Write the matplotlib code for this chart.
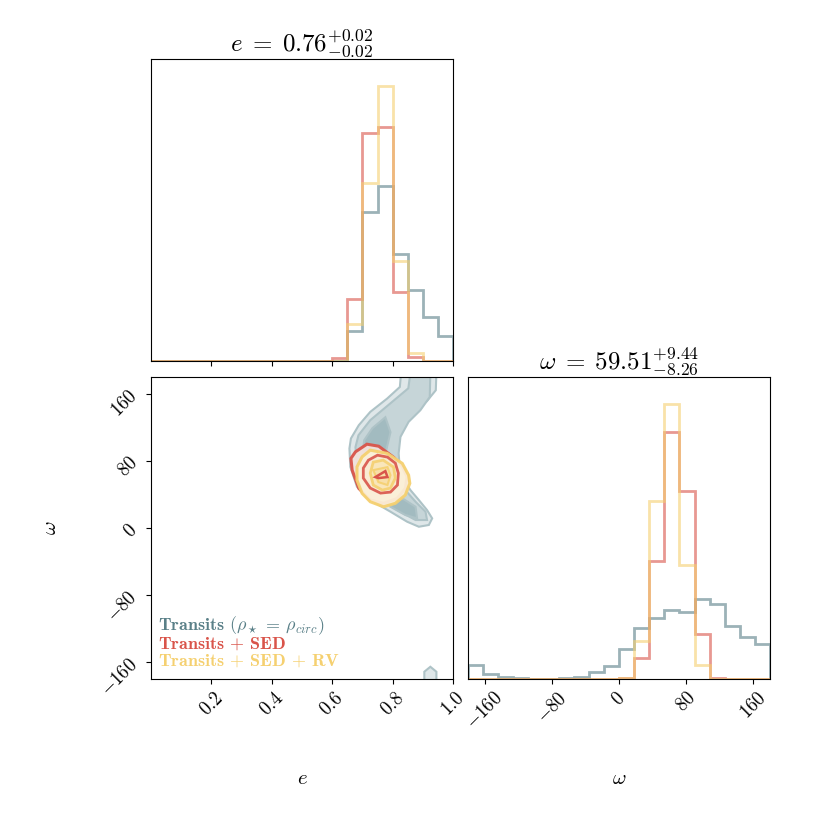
import numpy as np
import matplotlib
matplotlib.use('Agg')
import matplotlib.pyplot as plt

plt.rcParams['font.family'] = 'serif'
plt.rcParams['font.serif'] = ['cmr10']
plt.rcParams['mathtext.fontset'] = 'cm'
plt.rcParams['axes.formatter.use_mathtext'] = True

#
# Colours for the three fits
#
c_tr = '#5a8088'
c_sed = '#d9544a'
c_rv = '#f5d070'

#
# 1D posteriors: histogram counts (20 bins each)
#
e_edges = np.linspace(0.0, 1.0, 21)
e_tr = [0, 0, 0, 0, 0, 0, 0, 0, 0, 0, 0, 0, 0, 88, 446, 523, 318, 213, 130, 75]
e_sed = [0, 0, 0, 0, 0, 0, 0, 0, 0, 0, 0, 0, 8, 186, 681, 700, 205, 13, 0, 0]
e_rv = [0, 0, 0, 0, 0, 0, 0, 0, 0, 0, 0, 0, 0, 110, 531, 820, 300, 25, 0, 0]

w_edges = np.linspace(-180.0, 180.0, 21)
w_tr = [42, 14, 6, 2, 0, 0, 2, 7, 20, 40, 90, 152, 182, 207, 200, 239, 224, 159, 125, 104]
w_sed = [0, 0, 0, 0, 0, 0, 0, 0, 0, 0, 2, 62, 352, 737, 562, 135, 4, 0, 0, 0]
w_rv = [0, 0, 0, 0, 0, 0, 0, 0, 0, 0, 2, 114, 532, 820, 342, 42, 0, 0, 0, 0]

#
# 2D posterior: contour outlines (e, omega) for each level
#
tr_outer_e = [0.828, 0.824, 0.782, 0.726, 0.688, 0.662, 0.657, 0.660, 0.682, 0.736, 0.793, 0.848,
              0.887, 0.920, 0.931, 0.914, 0.887, 0.859, 0.842, 0.815, 0.809, 0.815, 0.832, 0.870,
              0.914, 0.943, 0.945]
tr_outer_w = [185, 168.1, 154.3, 138.4, 122.5, 106.7, 94.8, 72.9, 49.1, 31.3, 19.4, 7.5,
              1.5, 3.6, 11.5, 21.4, 33.3, 45.2, 55.1, 69.0, 86.8, 108.6, 122.5, 138.4,
              151.4, 164.2, 185]
tr_mid_e = [0.859, 0.852, 0.793, 0.726, 0.687, 0.677, 0.683, 0.700, 0.749, 0.815, 0.876, 0.914,
            0.909, 0.876, 0.842, 0.826, 0.820, 0.826, 0.853, 0.892, 0.923, 0.925]
tr_mid_w = [185, 166.5, 148.7, 128.5, 110.6, 96.4, 74.9, 51.2, 37.2, 21.4, 9.5, 9.5,
            19.4, 31.3, 45.2, 61.0, 88.9, 108.6, 126.5, 140.4, 156.2, 185]
tr_in1_e = [0.776, 0.793, 0.779, 0.733, 0.700, 0.706, 0.733]
tr_in1_w = [132.0, 114.2, 92.8, 78.5, 86.8, 104.7, 119.0]
tr_in2_e = [0.815, 0.876, 0.881, 0.842, 0.793]
tr_in2_w = [39.3, 25.3, 11.5, 15.5, 25.3]
tr_blob_e = [0.925, 0.905, 0.905, 0.945, 0.945]
tr_blob_w = [-165.4, -171.3, -183, -183, -171.3]

sed_outer_e = [0.677, 0.715, 0.754, 0.804, 0.832, 0.848, 0.842, 0.815, 0.770, 0.726, 0.688, 0.666, 0.662]
sed_outer_w = [90.8, 99.9, 97.5, 84.1, 72.9, 61.0, 47.2, 35.3, 29.4, 33.3, 47.2, 69.0, 82.9]
sed_mid_e = [0.720, 0.750, 0.783, 0.809, 0.819, 0.816, 0.793, 0.760, 0.726, 0.703, 0.703]
sed_mid_w = [80.9, 86.8, 84.5, 77.3, 65.4, 51.2, 42.8, 41.6, 47.6, 59.5, 71.4]
sed_in_e = [0.743, 0.776, 0.783, 0.753]
sed_in_w = [60.7, 67.8, 60.7, 59.5]

rv_outer_e = [0.726, 0.782, 0.832, 0.853, 0.857, 0.842, 0.809, 0.770, 0.726, 0.699, 0.682, 0.682, 0.699]
rv_outer_w = [92.8, 88.9, 77.0, 63.0, 53.2, 39.3, 29.4, 25.3, 31.3, 41.3, 57.1, 72.9, 84.8]
rv_mid_e = [0.736, 0.769, 0.803, 0.809, 0.793, 0.766, 0.736, 0.726]
rv_mid_w = [78.5, 80.9, 72.6, 59.5, 47.6, 45.2, 51.2, 65.4]
rv_in_e = [0.736, 0.783, 0.793, 0.783, 0.753]
rv_in_w = [69.0, 72.6, 63.0, 51.2, 54.7]

e_title = r'$e\;=\;0.76^{+0.02}_{-0.02}$'
w_title = r'$\omega\;=\;59.51^{+9.44}_{-8.26}$'

fig = plt.figure(figsize=(8.3, 8.3), dpi=100)
ax_e = fig.add_axes([0.1819, 0.5651, 0.3639, 0.3639])
ax_2d = fig.add_axes([0.1819, 0.1819, 0.3639, 0.3639])
ax_w = fig.add_axes([0.5639, 0.1819, 0.3639, 0.3639])

#
# Histogram of e
#
for vals, col in [(e_tr, c_tr), (e_sed, c_sed), (e_rv, c_rv)]:
    ax_e.stairs(vals, e_edges, color=col, alpha=0.6, lw=2)
ax_e.set_xlim(0, 1)
ax_e.set_ylim(0, 1.1 * max(e_rv))
ax_e.set_yticks([])
ax_e.set_xticks([0.2, 0.4, 0.6, 0.8, 1.0])
ax_e.set_xticklabels([])
ax_e.set_title(e_title, fontsize=18)

#
# Histogram of omega
#
for vals, col in [(w_tr, c_tr), (w_sed, c_sed), (w_rv, c_rv)]:
    ax_w.stairs(vals, w_edges, color=col, alpha=0.6, lw=2)
ax_w.set_xlim(-180, 180)
ax_w.set_ylim(0, 1.1 * max(w_rv))
ax_w.set_yticks([])
ax_w.set_xticks([-160, -80, 0, 80, 160])
ax_w.set_title(w_title, fontsize=18)
ax_w.set_xlabel(r'$\omega$', fontsize=15)
ax_w.xaxis.set_label_coords(0.5, -0.3)

#
# 2D contours
#
edge_tr = '#aec3c7'
ax_2d.fill(tr_outer_e, tr_outer_w, fc='#dfe7e9', ec=edge_tr, lw=1.5)
ax_2d.fill(tr_mid_e, tr_mid_w, fc='#c6d5d8', ec=edge_tr, lw=1.5)
ax_2d.fill(tr_in1_e, tr_in1_w, fc='#a2bbc0', ec=edge_tr, lw=1.5)
ax_2d.fill(tr_in2_e, tr_in2_w, fc='#a2bbc0', ec=edge_tr, lw=1.5)
ax_2d.fill(tr_blob_e, tr_blob_w, fc='#dfe7e9', ec=edge_tr, lw=1.5)

ax_2d.fill(sed_outer_e, sed_outer_w, fc='#f3e2dc', ec=c_sed, lw=2.2, alpha=0.95)
ax_2d.fill(rv_outer_e, rv_outer_w, fc='#fbf0d8', ec=c_rv, lw=2.2, alpha=0.95)
ax_2d.fill(sed_mid_e, sed_mid_w, fc='#f9ead2', ec=c_sed, lw=2, alpha=0.9)
ax_2d.fill(rv_mid_e, rv_mid_w, fc='#fae6b8', ec=c_rv, lw=2, alpha=0.9)
ax_2d.fill(rv_in_e, rv_in_w, fc='#f8dfa6', ec=c_rv, lw=1.5, alpha=0.9)
ax_2d.fill(sed_in_e, sed_in_w, fc='#f8dfa6', ec=c_sed, lw=1.8)

ax_2d.set_xlim(0, 1)
ax_2d.set_ylim(-180, 180)
ax_2d.set_xticks([0.2, 0.4, 0.6, 0.8, 1.0])
ax_2d.set_yticks([-160, -80, 0, 80, 160])
ax_2d.set_xlabel(r'$e$', fontsize=15)
ax_2d.set_ylabel(r'$\omega$', fontsize=15)
ax_2d.xaxis.set_label_coords(0.5, -0.3)
ax_2d.yaxis.set_label_coords(-0.3, 0.5)

ax_2d.text(0.023, 0.178, r'Transits $(\rho_\star\,=\,\rho_{circ})$', color=c_tr,
           fontfamily='cmb10', fontsize=13, va='center', transform=ax_2d.transAxes)
ax_2d.text(0.023, 0.118, r'Transits $+$ SED', color=c_sed,
           fontfamily='cmb10', fontsize=13, va='center', transform=ax_2d.transAxes)
ax_2d.text(0.023, 0.060, r'Transits $+$ SED $+$ RV', color=c_rv,
           fontfamily='cmb10', fontsize=13, va='center', transform=ax_2d.transAxes)

for ax in [ax_e, ax_2d, ax_w]:
    ax.tick_params(labelsize=13.5)
    for lab in ax.get_xticklabels() + ax.get_yticklabels():
        lab.set_rotation(45)

fig.savefig('out.png', dpi=100)
